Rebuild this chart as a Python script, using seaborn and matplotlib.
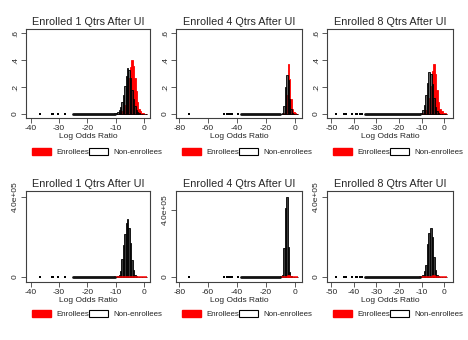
import numpy as np
import pandas as pd
import matplotlib
matplotlib.use("Agg")
import matplotlib.pyplot as plt
from matplotlib.patches import Patch
import seaborn as sns

# panel titles and legend labels
titles = ["Enrolled 1 Qtrs After UI", "Enrolled 4 Qtrs After UI", "Enrolled 8 Qtrs After UI"]
legend_labels = ["Enrollees", "Non-enrollees"]

# bin edges of the main body of each histogram (log odds ratio)
edges_q1 = np.arange(-10.5, 1.01, 0.5)
edges_q4 = np.arange(-10.0, 2.01, 1.0)
edges_q8 = np.arange(-11.2, 1.41, 0.7)

# densities (top row)
dens_enr_q1 = [0, 0, 0.002, 0.005, 0.01, 0.02, 0.04, 0.07, 0.12, 0.19, 0.27, 0.35,
               0.40, 0.36, 0.27, 0.17, 0.09, 0.04, 0.02, 0.008, 0.004, 0.002, 0.001]
dens_non_q1 = [0.004, 0.008, 0.015, 0.03, 0.05, 0.09, 0.14, 0.21, 0.28, 0.34, 0.33, 0.27,
               0.18, 0.11, 0.06, 0.03, 0.012, 0.005, 0.002, 0, 0, 0, 0]
dens_enr_q4 = [0, 0.002, 0.01, 0.04, 0.14, 0.37, 0.26, 0.11, 0.04, 0.015, 0.005, 0.002]
dens_non_q4 = [0.003, 0.01, 0.06, 0.20, 0.29, 0.25, 0.11, 0.04, 0.01, 0.003, 0, 0]
dens_enr_q8 = [0, 0.002, 0.005, 0.01, 0.03, 0.06, 0.12, 0.21, 0.32, 0.37, 0.30, 0.18,
               0.09, 0.04, 0.02, 0.008, 0.004, 0.002]
dens_non_q8 = [0.003, 0.01, 0.03, 0.07, 0.14, 0.23, 0.31, 0.30, 0.22, 0.12, 0.05, 0.02,
               0.007, 0.002, 0, 0, 0, 0]

# frequencies (bottom row)
freq_enr_q1 = [0, 0, 10, 30, 60, 120, 240, 420, 700, 1100, 1600, 2000,
               2300, 2100, 1600, 1000, 500, 250, 120, 50, 25, 12, 6]
freq_non_q1 = [500, 1500, 4000, 12000, 30000, 90000, 160000, 215000, 270000, 290000, 245000, 170000,
               85000, 35000, 12000, 4000, 1500, 500, 200, 0, 0, 0, 0]
freq_enr_q4 = [0, 20, 100, 400, 1500, 4000, 2800, 1200, 450, 160, 50, 20]
freq_non_q4 = [3000, 10000, 170000, 410000, 476000, 176000, 30000, 6000, 1500, 300, 0, 0]
freq_enr_q8 = [0, 10, 30, 80, 200, 450, 900, 1600, 2400, 2800, 2300, 1400,
               700, 300, 150, 60, 30, 15]
freq_non_q8 = [1000, 4000, 12000, 30000, 60000, 167000, 217000, 246000, 199000, 98000, 35000, 10000,
               3000, 800, 200, 0, 0, 0]

# sparse left tails of non-enrollees: isolated values and a continuous stretch
tail_dots_q1 = [-36.5, -32.6, -32.0, -30.2, -27.9]
tail_run_q1 = [-25.0, -10.2]
tail_dots_q4 = [-73.0, -49.2, -46.9, -45.5, -44.2, -43.4, -39.3]
tail_run_q4 = [-37.0, -10.0]
tail_dots_q8 = [-47.8, -44.4, -43.3, -40.7, -39.2, -38.4, -37.5, -36.6]
tail_run_q8 = [-34.9, -10.7]

xticks = [[-40, -30, -20, -10, 0], [-80, -60, -40, -20, 0], [-50, -40, -30, -20, -10, 0]]
xlims = [(-41.6, 2.1), (-82.3, 5.0), (-51.9, 3.9)]

panels = [
    (edges_q1, dens_enr_q1, dens_non_q1, freq_enr_q1, freq_non_q1, tail_dots_q1, tail_run_q1),
    (edges_q4, dens_enr_q4, dens_non_q4, freq_enr_q4, freq_non_q4, tail_dots_q4, tail_run_q4),
    (edges_q8, dens_enr_q8, dens_non_q8, freq_enr_q8, freq_non_q8, tail_dots_q8, tail_run_q8),
]

sns.set_style("white")
plt.rcParams["font.family"] = ["Liberation Sans", "DejaVu Sans"]
plt.rcParams["axes.unicode_minus"] = False

W, H = 468, 340
fig = plt.figure(figsize=(W / 100, H / 100), dpi=100)
fig.patch.set_facecolor("white")

lefts = [26, 176, 327]
widths = [124, 126, 126]
rows = [(29, 118), (191, 282)]
legend_x = [32, 182, 333]
legend_y = [152, 314]
frame = "#404040"


def draw_hist(ax, edges, vals, face, edge, lw):
    edges = np.asarray(edges, dtype=float)
    df = pd.DataFrame({"lor": (edges[:-1] + edges[1:]) / 2, "w": vals})
    sns.histplot(data=df, x="lor", weights="w", bins=list(edges), ax=ax, stat="count",
                 element="bars", facecolor=face, edgecolor=edge, linewidth=lw,
                 alpha=None)


for r, (top, bot) in enumerate(rows):
    for c in range(3):
        edges, de, dn, fe, fn, dots, run = panels[c]
        ax = fig.add_axes([lefts[c] / W, 1 - bot / H, widths[c] / W, (bot - top) / H])
        if r == 0:
            # density: red underneath, non-enrollees drawn over it
            draw_hist(ax, edges, de, "red", "red", 0.6)
            draw_hist(ax, edges, dn, (0.12, 0.12, 0.12, 0.7), "black", 0.6)
        else:
            # frequency: enrollees are so few they show as a red line on the base
            draw_hist(ax, edges, fn, (0.22, 0.22, 0.22, 1.0), "black", 0.6)
            draw_hist(ax, edges, fe, "red", "red", 1.1)
        sns.lineplot(x=run, y=[0, 0], ax=ax, color="#111111", linewidth=2.0)
        sns.scatterplot(x=dots, y=[0] * len(dots), ax=ax, color="black",
                        marker="s", s=3.0, linewidth=0)
        ax.set_xlim(*xlims[c])
        ax.set_xticks(xticks[c])
        ax.set_xticklabels([str(t) for t in xticks[c]])
        if r == 0:
            ax.set_ylim(-0.030, 0.632)
            ax.set_yticks([0, 0.2, 0.4, 0.6], labels=["0", ".2", ".4", ".6"])
        else:
            if c == 1:
                ax.set_ylim(-3.0e4, 5.1e5)
            else:
                ax.set_ylim(-2.5e4, 4.29e5)
            ax.set_yticks([0, 4e5], labels=["0", "4.0e+05"])
        ax.set_title(titles[c], fontsize=7.8, pad=3)
        ax.set_xlabel("Log Odds Ratio", fontsize=6.0, labelpad=1)
        ax.set_ylabel("")
        ax.tick_params(axis="both", which="major", labelsize=6.0, length=3.5, width=0.6,
                       color=frame, pad=1.5, bottom=True, left=True)
        ax.tick_params(axis="y", labelrotation=90)
        for lab in ax.get_yticklabels():
            lab.set_va("center")
        for s in ax.spines.values():
            s.set_visible(True)
            s.set_color(frame)
            s.set_linewidth(0.8)
        handles = [Patch(facecolor="red", edgecolor="red"),
                   Patch(facecolor="white", edgecolor="black", linewidth=0.8)]
        ax.legend(handles, legend_labels, loc="center left",
                  bbox_to_anchor=(legend_x[c] / W, 1 - legend_y[r] / H),
                  bbox_transform=fig.transFigure, ncol=2, frameon=False,
                  fontsize=5.7, handlelength=2.45, handleheight=1.0,
                  handletextpad=0.6, columnspacing=0.0, borderpad=0,
                  borderaxespad=0)

fig.savefig("out.png", dpi=100, facecolor="white")
